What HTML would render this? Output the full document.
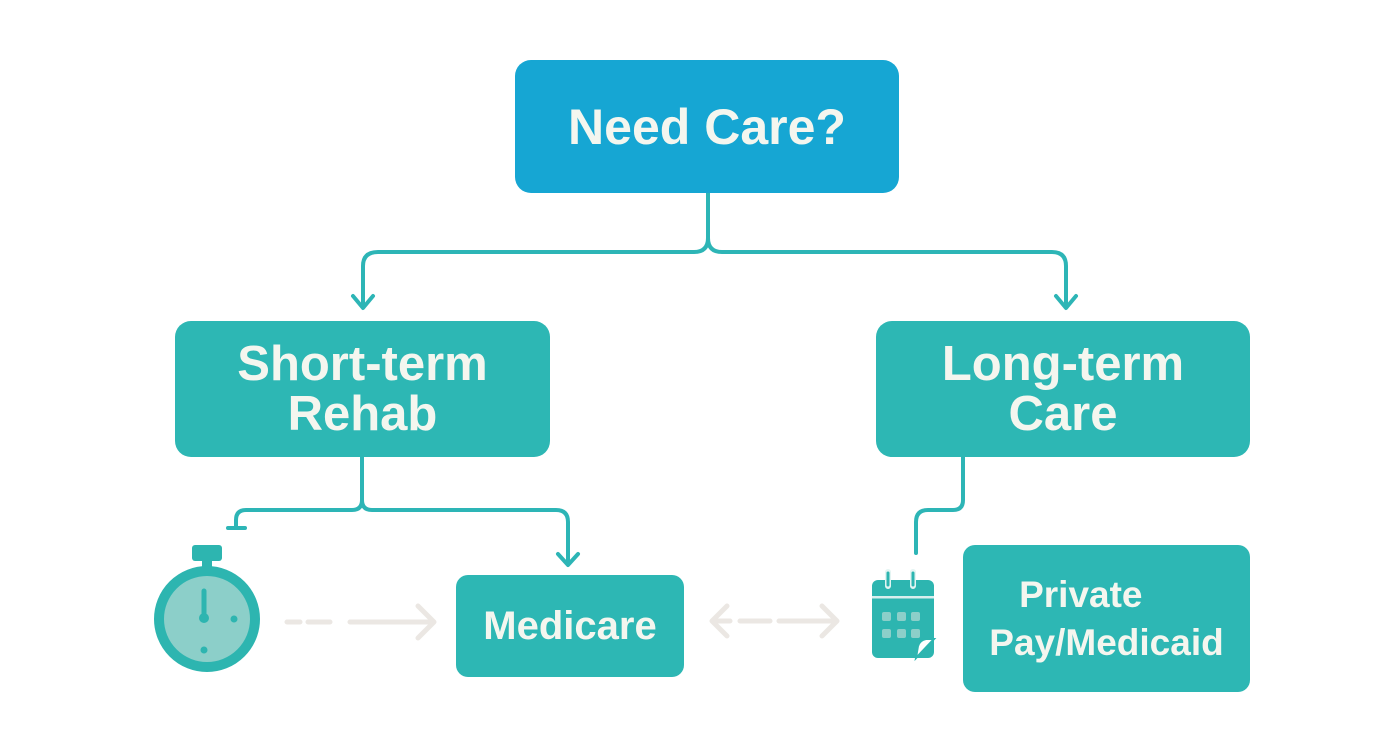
<!DOCTYPE html>
<html><head><style>
body{margin:0;width:1392px;height:752px;background:#fff;overflow:hidden;font-family:"Liberation Sans",sans-serif}
.b{position:absolute;border-radius:16px;background:#2db7b4;color:#f4f6ef;display:flex;align-items:center;justify-content:center;text-align:center;font-weight:bold}
</style></head><body>
<svg width="1392" height="752" style="position:absolute;left:0;top:0" fill="none">
<g stroke="#2db5b6" stroke-width="4" stroke-linecap="round" stroke-linejoin="round">
<path d="M708 193 V238 Q708 252 694 252 H378 Q363 252 363 266 V305"/>
<path d="M708 238 Q708 252 722 252 H1052 Q1066 252 1066 266 V305"/>
<path d="M353 296 L363 308 L373 296"/>
<path d="M1056 296 L1066 308 L1076 296"/>
<path d="M362 457 V500 Q362 510 352 510 H246 Q236 510 236 520 V527"/>
<path d="M228 528 H245"/>
<path d="M362 500 Q362 510 372 510 H556 Q568 510 568 522 V563"/>
<path d="M558 554 L568 565 L578 554"/>
<path d="M963 457 V500 Q963 510 953 510 H928 Q916 510 916 522 V553"/>
</g>
<g stroke="#ebe7e3" stroke-width="5" stroke-linecap="round" stroke-linejoin="round">
<path d="M287 622 H300 M308 622 H330 M350 622 H432 M418 606 L434 622 L418 638"/>
<path d="M712 621 H730 M740 621 H770 M779 621 H836 M727 606 L712 621 L727 636 M822 606 L837 621 L822 636"/>
</g>
<rect x="192" y="545" width="30" height="16" rx="3" fill="#2db5b0"/>
<rect x="202" y="558" width="10" height="10" fill="#2db5b0"/>
<circle cx="207" cy="619" r="48" fill="#8ccfc9" stroke="#2db5b0" stroke-width="10"/>
<path d="M204 591 V617" stroke="#2db5b0" stroke-width="5" stroke-linecap="round"/>
<circle cx="204" cy="618" r="5" fill="#2db5b0"/>
<circle cx="234" cy="619" r="3.5" fill="#2db5b0"/>
<circle cx="204" cy="650" r="3.5" fill="#2db5b0"/>
<rect x="872" y="580" width="62" height="78" rx="6" fill="#2db5b0"/>
<rect x="872" y="596" width="62" height="2.5" fill="#d8efee"/>
<path d="M888 572 V586 M913 572 V586" stroke="#e3f4f2" stroke-width="6" stroke-linecap="round"/>
<path d="M888 573 V585 M913 573 V585" stroke="#2db5b0" stroke-width="3" stroke-linecap="round"/>
<g fill="#8ccfc9"><rect x="882" y="612" width="9" height="9" rx="2"/><rect x="897" y="612" width="9" height="9" rx="2"/><rect x="911" y="612" width="9" height="9" rx="2"/><rect x="882" y="629" width="9" height="9" rx="2"/><rect x="897" y="629" width="9" height="9" rx="2"/><rect x="911" y="629" width="9" height="9" rx="2"/></g>
<path d="M934 639 L916 658 L918 646 Q920 640 926 639 Z" fill="#fff" stroke="#2db5b0" stroke-width="2"/>
</svg>
<div class="b" style="left:515px;top:60px;width:384px;height:133px;background:#16a6d3;font-size:50px">Need Care?</div>
<div class="b" style="left:175px;top:321px;width:375px;height:136px;font-size:49px;line-height:50px">Short-term<br>Rehab</div>
<div class="b" style="left:876px;top:321px;width:374px;height:136px;font-size:49px;line-height:50px">Long-term<br>Care</div>
<div class="b" style="left:456px;top:575px;width:228px;height:102px;font-size:40px;border-radius:12px">Medicare</div>
<div class="b" style="left:963px;top:545px;width:287px;height:147px;font-size:37px;line-height:48px;border-radius:12px"><span>Private&nbsp;&nbsp;&nbsp;&nbsp;&nbsp;<br>Pay/Medicaid</span></div>
</body></html>
